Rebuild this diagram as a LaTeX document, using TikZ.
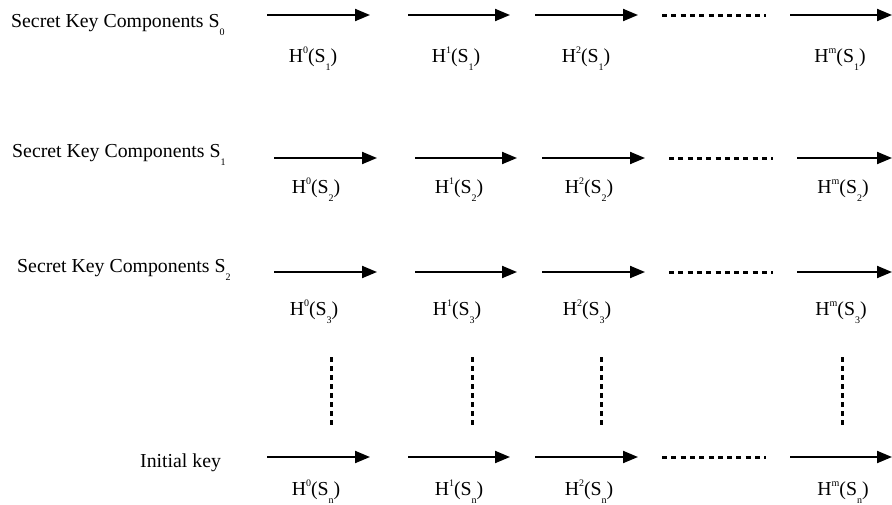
\documentclass[tikz,border=0pt]{standalone}
\usepackage{fontspec}
\setmainfont{Liberation Serif}
\usetikzlibrary{arrows.meta}

% superscript and lowered subscript for the hash labels
\newcommand{\hsup}[1]{\raisebox{8.5pt}{\fontsize{10}{10}\selectfont #1}}
\newcommand{\hsub}[1]{\raisebox{-8.3pt}{\fontsize{10}{10}\selectfont #1}}
\newcommand{\hash}[2]{H\hsup{#1}(S\hsub{#2})}

\begin{document}
\begin{tikzpicture}[x=1pt,y=-1pt,
  every node/.style={font=\fontsize{19.8}{22}\selectfont, inner sep=0pt},
  rowtext/.style={anchor=base west},
  hashlabel/.style={anchor=base},
  steparrow/.style={line width=2pt, -{Triangle[length=15pt,width=12pt]}},
  hdots/.style={line width=3pt, dash pattern=on 5pt off 4.3pt},
  vdots/.style={line width=3pt, dash pattern=on 5pt off 4pt}]

\useasboundingbox (0,0) rectangle (892,504);

% row captions
\node[rowtext] (r1) at (11,27)  {Secret Key Components S\hsub{0}};
\node[rowtext] (r2) at (12,157) {Secret Key Components S\hsub{1}};
\node[rowtext] (r3) at (17,272) {Secret Key Components S\hsub{2}};
\node[rowtext] (r4) at (140,467) {Initial key};

% hash chains: row / y / x-offset / label baseline / index / label shift
\foreach \r/\y/\dx/\ly/\s/\lx in {1/15/0/62/1/0, 2/158/7/193/2/3, 3/272/7/315/3/1, 4/457/0/495/n/3}{
  \coordinate (a\r s1) at (267+\dx,\y);  \coordinate (a\r e1) at (370+\dx,\y);
  \coordinate (a\r s2) at (408+\dx,\y);  \coordinate (a\r e2) at (510+\dx,\y);
  \coordinate (a\r s3) at (535+\dx,\y);  \coordinate (a\r e3) at (638+\dx,\y);
  \coordinate (d\r s)  at (662+\dx,\y);  \coordinate (d\r e)  at (766+\dx,\y);
  \coordinate (a\r s4) at (790+\dx,\y);  \coordinate (a\r e4) at (892,\y);
  \draw[steparrow] (a\r s1) -- (a\r e1);
  \draw[steparrow] (a\r s2) -- (a\r e2);
  \draw[steparrow] (a\r s3) -- (a\r e3);
  \draw[hdots] (d\r s) -- (d\r e);
  \draw[steparrow] (a\r s4) -- (a\r e4);
  \node[hashlabel] (h\r a) at (313+\lx,\ly) {\hash{0}{\s}};
  \node[hashlabel] (h\r b) at (456+\lx,\ly) {\hash{1}{\s}};
  \node[hashlabel] (h\r c) at (586+\lx,\ly) {\hash{2}{\s}};
  \node[hashlabel] (h\r d) at (840+\lx,\ly) {\hash{m}{\s}};
}

% vertical ellipses between the third row and the initial key
\foreach \i/\x in {1/331, 2/472, 3/601, 4/842}{
  \coordinate (v\i t) at (\x,357);
  \coordinate (v\i b) at (\x,428);
  \draw[vdots] (v\i t) -- (v\i b);
}
\end{tikzpicture}
\end{document}
